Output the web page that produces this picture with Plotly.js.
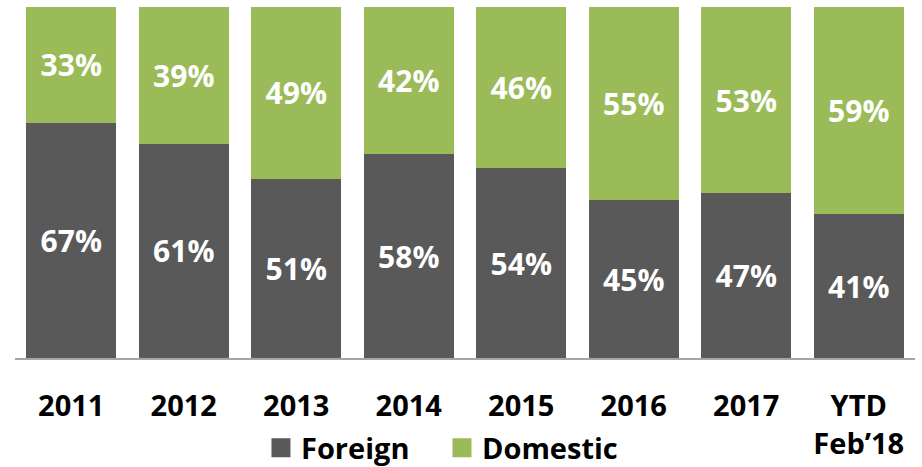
<!DOCTYPE html>
<html>
<head>
<meta charset="utf-8">
<script src="https://cdn.plot.ly/plotly-3.0.1.min.js"></script>
<style>html,body{margin:0;padding:0;background:#fff;}#chart{width:922px;height:467px;}</style>
</head>
<body>
<div id="chart"></div>
<script>
const categories = ['2011', '2012', '2013', '2014', '2015', '2016', '2017', 'YTD<br>Feb’18'];
const foreign = [67, 61, 51, 58, 54, 45, 47, 41];
const domestic = [33, 39, 49, 42, 46, 55, 53, 59];
const seriesNames = ['Foreign', 'Domestic'];

const FONT = 'Open Sans, DejaVu Sans, sans-serif';
const colors = ['#595959', '#9BBB59'];
const idx = categories.map((c, i) => i);

function barTrace(vals, name, color) {
  return {
    type: 'bar', x: idx, y: vals, name: name, showlegend: false,
    marker: {color: color, line: {width: 0}},
    text: vals.map(v => v + '%'), textposition: 'inside', insidetextanchor: 'middle',
    textfont: {family: FONT, size: 30, color: '#ffffff', weight: 700},
    constraintext: 'none', hoverinfo: 'skip'
  };
}
function legendTrace(name, color) {
  return {
    type: 'scatter', mode: 'markers', x: [null], y: [null], name: name,
    marker: {symbol: 'square', size: 16, color: color, line: {color: color, width: 3}},
    hoverinfo: 'skip'
  };
}

const data = [
  barTrace(foreign, seriesNames[0], colors[0]),
  barTrace(domestic, seriesNames[1], colors[1]),
  legendTrace(seriesNames[0], colors[0]),
  legendTrace(seriesNames[1], colors[1])
];

const layout = {
  width: 922, height: 467,
  margin: {l: 15, r: 7, t: 7, b: 109, autoexpand: false},
  barmode: 'stack', bargap: 0.2,
  paper_bgcolor: '#ffffff', plot_bgcolor: '#ffffff',
  font: {family: FONT, color: '#000000'},
  xaxis: {
    tickmode: 'array', tickvals: idx, ticktext: categories,
    range: [-0.5, categories.length - 0.5], automargin: false,
    showgrid: false, zeroline: false, showline: true, linecolor: '#A6A6A6', linewidth: 1.5,
    ticks: '', ticklabelstandoff: 22,
    tickfont: {family: FONT, size: 29, color: '#000000', weight: 700}
  },
  yaxis: {
    range: [0, 100], showgrid: false, zeroline: false, showticklabels: false, showline: false, ticks: '', automargin: false
  },
  showlegend: true,
  legend: {
    orientation: 'h', traceorder: 'normal', x: 0.2733, xanchor: 'left', y: -0.256, yanchor: 'middle',
    font: {family: FONT, size: 29, color: '#000000', weight: 700},
    itemwidth: 30, entrywidth: 136, entrywidthmode: 'pixels', tracegroupgap: 0, bgcolor: 'rgba(0,0,0,0)'
  }
};

Plotly.newPlot('chart', data, layout, {displayModeBar: false, staticPlot: true});
</script>
</body>
</html>
